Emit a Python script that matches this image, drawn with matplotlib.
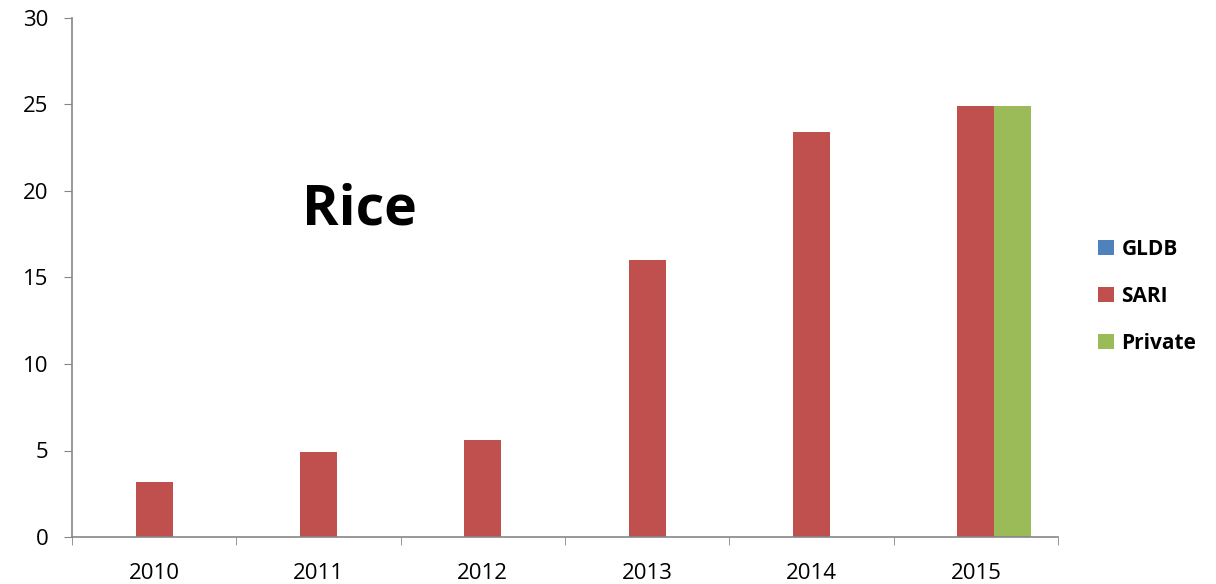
import matplotlib.pyplot as plt
import numpy as np

years = ["2010", "2011", "2012", "2013", "2014", "2015"]
gldb = [0, 0, 0, 0, 0, 0]
sari = [3.2, 4.9, 5.6, 16.0, 23.4, 24.9]
private = [0, 0, 0, 0, 0, 24.9]

plt.rcParams['font.family'] = ['Open Sans', 'DejaVu Sans']

fig = plt.figure(figsize=(12.16, 5.84), dpi=100)
ax = fig.add_axes([72/1216, 1 - 537/584, (1058 - 72)/1216, (537 - 18)/584])

x = np.arange(len(years))
w = 0.225
ax.bar(x - w, gldb, w, color='#4f81bd', label='GLDB')
ax.bar(x, sari, w, color='#c0504d', label='SARI')
ax.bar(x + w, private, w, color='#9bbb59', label='Private')

ax.set_xlim(-0.5, len(years) - 0.5)
ax.set_ylim(0, 30)
ax.set_yticks(range(0, 31, 5))
ax.set_xticks(x)
ax.set_xticklabels(years)
ax.set_xticks(np.arange(-0.5, len(years)), minor=True)
ax.tick_params(axis='x', which='major', length=0, pad=19, labelsize=16)
ax.tick_params(axis='x', which='minor', length=6, color='#868686')
ax.tick_params(axis='y', length=6, color='#868686', labelsize=16, pad=11)

for s in ['top', 'right']:
    ax.spines[s].set_visible(False)
for s in ['left', 'bottom']:
    ax.spines[s].set_color('#868686')
    ax.spines[s].set_linewidth(1.2)

ax.text(1.25, 18.9, "Rice", fontsize=40, fontweight='bold', ha='center', va='center')

leg = ax.legend(loc='center left', bbox_to_anchor=(1.022, 0.464), frameon=False,
                prop={'weight': 'bold', 'size': 15}, handlelength=0.75, handleheight=0.75,
                handletextpad=0.35, labelspacing=1.25)

plt.savefig("out.png", dpi=100)
